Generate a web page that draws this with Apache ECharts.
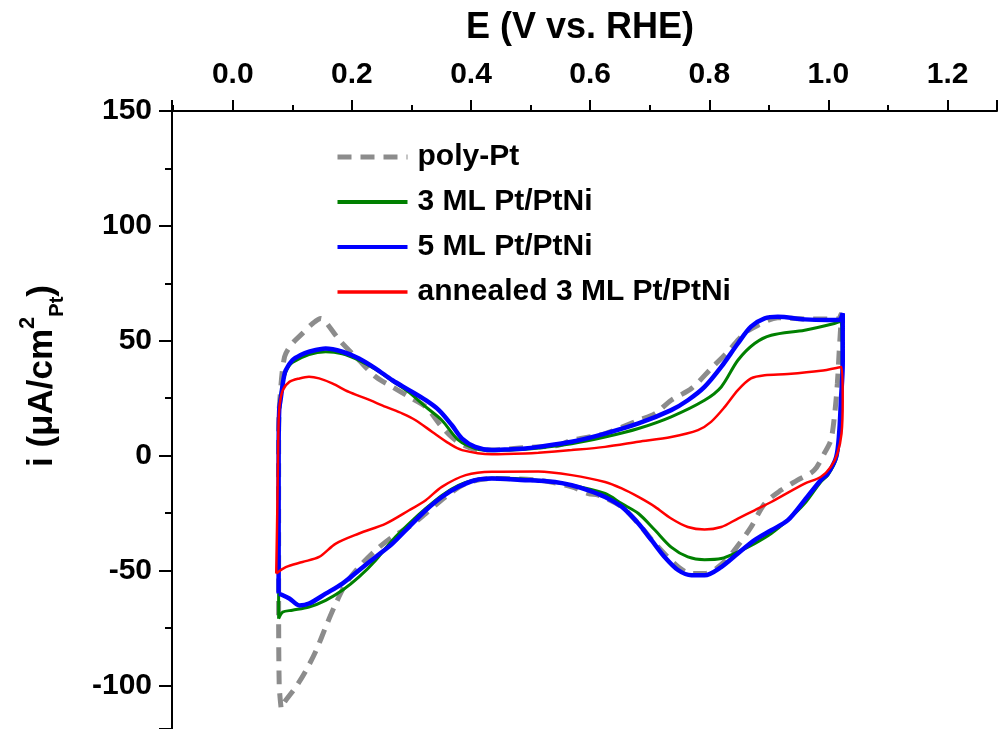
<!DOCTYPE html>
<html>
<head>
<meta charset="utf-8">
<script src="https://cdn.jsdelivr.net/npm/echarts@6/dist/echarts.min.js"></script>
<style>
  html, body { margin: 0; padding: 0; background: #ffffff; }
  #chart { width: 1000px; height: 729px; }
</style>
</head>
<body>
<div id="chart"></div>
<script>
// Cyclic voltammograms, each loop as [E (V vs. RHE), i (uA/cm2 Pt)] in sweep order:
// up the cathodic limit, anodic sweep to the right, back along the cathodic sweep.
const seriesNames = ['poly-Pt', '3 ML Pt/PtNi', '5 ML Pt/PtNi', 'annealed 3 ML Pt/PtNi'];

const polyPt = [
  [0.081, -109.5], [0.078, -100], [0.077, -60], [0.077, -20], [0.077, 10], [0.079, 24.1],
  [0.087, 43.0], [0.100, 48.8], [0.117, 53.2], [0.134, 57.5], [0.148, 59.7], [0.156, 58.2],
  [0.179, 50.3], [0.212, 41.5], [0.240, 34.3], [0.268, 29.9], [0.296, 25.6], [0.324, 21.2],
  [0.351, 12.5], [0.374, 6.7], [0.402, 3.1], [0.435, 2.4], [0.491, 3.5], [0.547, 4.5],
  [0.569, 6.7], [0.625, 9.6], [0.681, 15.4], [0.709, 18.3], [0.736, 24.1], [0.770, 29.2],
  [0.803, 37.9], [0.831, 45.2], [0.859, 53.2], [0.882, 56.8], [0.915, 60.0], [0.960, 59.5],
  [1.015, 59.5], [1.022, 62.0], [1.018, 45.0], [1.015, 31.4], [1.010, 16.9], [1.004, 6.7],
  [0.993, 0.9], [0.976, -6.4], [0.948, -10.7], [0.920, -15.1], [0.893, -20.9], [0.870, -31.1],
  [0.842, -41.2], [0.815, -48.5], [0.792, -51.3], [0.770, -51.3], [0.748, -48.5], [0.709, -38.3],
  [0.681, -29.6], [0.653, -22.3], [0.614, -17.2], [0.597, -16.5], [0.569, -13.6], [0.513, -10.7],
  [0.435, -10.0], [0.391, -12.2], [0.357, -18.0], [0.324, -25.2], [0.296, -31.0], [0.268, -35.4],
  [0.240, -41.2], [0.212, -48.5], [0.190, -55.7], [0.173, -64.4], [0.156, -74.6], [0.140, -84.8],
  [0.123, -93.5], [0.106, -100.7], [0.089, -106.5], [0.081, -109.5]
];

const ml3 = [
  [0.077, -71.0], [0.077, -40], [0.077, 0], [0.078, 20], [0.081, 27.0], [0.086, 34.0],
  [0.092, 38.0], [0.100, 40.5], [0.128, 44.0], [0.156, 45.2], [0.184, 44.3], [0.212, 41.5],
  [0.240, 37.5], [0.268, 32.5], [0.296, 27.5], [0.324, 21.2], [0.351, 15.4], [0.379, 6.7],
  [0.407, 3.1], [0.435, 2.2], [0.491, 2.8], [0.513, 3.3], [0.569, 5.2], [0.625, 8.1],
  [0.681, 11.8], [0.736, 16.9], [0.792, 24.1], [0.820, 29.9], [0.848, 41.5], [0.876, 48.8],
  [0.904, 52.4], [0.960, 54.6], [1.010, 57.5], [1.021, 58.5], [1.023, 40.0], [1.021, 20.0],
  [1.018, 8.0], [1.013, -1.5], [0.999, -8.5], [0.987, -11.5], [0.960, -20.9], [0.932, -28.0],
  [0.904, -33.9], [0.876, -38.3], [0.848, -41.9], [0.820, -44.8], [0.792, -45.3], [0.764, -44.1],
  [0.736, -39.8], [0.709, -32.5], [0.681, -25.2], [0.653, -20.9], [0.625, -16.5], [0.569, -12.9],
  [0.513, -10.7], [0.435, -9.8], [0.407, -10.5], [0.379, -13.0], [0.351, -17.3], [0.324, -23.0],
  [0.296, -29.6], [0.268, -36.8], [0.240, -45.5], [0.212, -52.8], [0.184, -58.6], [0.156, -63.0],
  [0.128, -65.9], [0.100, -67.3], [0.084, -68.1], [0.077, -71.0]
];

const ml5 = [
  [0.077, -60.0], [0.077, -30], [0.077, 0], [0.078, 20], [0.081, 25.6], [0.085, 33.0],
  [0.089, 37.2], [0.100, 41.5], [0.114, 43.8], [0.128, 45.2], [0.156, 46.6], [0.184, 45.2],
  [0.212, 42.3], [0.240, 37.9], [0.268, 32.8], [0.296, 28.5], [0.324, 24.1], [0.346, 19.8],
  [0.368, 13.2], [0.385, 7.4], [0.407, 3.8], [0.435, 2.4], [0.463, 2.7], [0.491, 3.1],
  [0.513, 3.8], [0.569, 6.0], [0.625, 9.6], [0.681, 14.0], [0.736, 19.8], [0.764, 24.1],
  [0.792, 29.9], [0.820, 38.6], [0.848, 48.8], [0.870, 56.1], [0.893, 59.7], [0.915, 60.4],
  [0.960, 59.3], [0.999, 59.0], [1.018, 59.0], [1.024, 62.0], [1.024, 40.0], [1.021, 24.1],
  [1.018, 9.6], [1.013, -0.6], [0.999, -7.8], [0.987, -10.7], [0.960, -19.4], [0.932, -28.1],
  [0.904, -32.5], [0.876, -36.8], [0.848, -42.6], [0.820, -48.5], [0.792, -52.1], [0.770, -52.1],
  [0.748, -49.9], [0.725, -44.1], [0.703, -36.8], [0.681, -29.6], [0.653, -22.3], [0.625, -18.0],
  [0.597, -15.1], [0.569, -12.9], [0.541, -11.5], [0.513, -10.9], [0.491, -10.7], [0.435, -10.0],
  [0.407, -10.7], [0.379, -13.6], [0.351, -18.0], [0.324, -23.8], [0.296, -31.0], [0.268, -38.3],
  [0.240, -44.1], [0.212, -49.9], [0.184, -55.7], [0.156, -60.1], [0.128, -64.4], [0.112, -65.2],
  [0.095, -62.2], [0.078, -60.1], [0.077, -60.0]
];

const annealed = [
  [0.073, -51.3], [0.075, -20], [0.076, 0], [0.077, 15], [0.079, 22.7], [0.084, 28.5],
  [0.095, 32.1], [0.112, 33.6], [0.128, 34.3], [0.145, 33.6], [0.167, 31.4], [0.195, 27.7],
  [0.223, 24.9], [0.257, 21.2], [0.285, 18.3], [0.307, 15.4], [0.335, 10.3], [0.363, 5.3],
  [0.385, 2.4], [0.435, 0.6], [0.491, 0.9], [0.513, 1.2], [0.569, 2.4], [0.625, 3.8],
  [0.681, 6.0], [0.736, 8.1], [0.781, 11.1], [0.803, 14.7], [0.826, 21.2], [0.848, 28.5],
  [0.870, 33.6], [0.893, 35.0], [0.932, 35.5], [0.987, 36.9], [1.022, 38.6], [1.024, 24.1],
  [1.022, 9.6], [1.015, 0.9], [1.004, -4.9], [0.987, -9.3], [0.960, -12.2], [0.904, -20.2],
  [0.876, -23.8], [0.848, -27.4], [0.820, -31.1], [0.792, -32.2], [0.764, -31.1], [0.736, -27.4],
  [0.709, -22.3], [0.681, -18.0], [0.653, -14.3], [0.625, -11.5], [0.569, -8.5], [0.513, -6.9],
  [0.435, -7.0], [0.391, -8.5], [0.351, -13.6], [0.324, -19.4], [0.296, -23.8], [0.257, -29.6],
  [0.212, -33.9], [0.173, -38.3], [0.145, -44.1], [0.117, -46.3], [0.089, -48.5], [0.073, -51.3]
];

const seriesData = [polyPt, ml3, ml5, annealed];
const seriesColors = ['#8c8c8c', '#008000', '#0000ff', '#ff0000'];
const seriesWidths = [5, 3, 4.5, 2.5];
const legendWidths = [5, 4, 4, 3.5];
const polyDash = [14, 9];

const FONT = "'Liberation Sans', Arial, Helvetica, sans-serif";
const black = '#000000';

const chart = echarts.init(document.getElementById('chart'), null, { renderer: 'canvas' });

const isMultiple = (v, step) => Math.abs(v / step - Math.round(v / step)) < 1e-6;

chart.setOption({
  animation: false,
  backgroundColor: '#ffffff',
  grid: { left: 172, right: 0, top: 111, bottom: 0, containLabel: false },
  xAxis: {
    type: 'value',
    position: 'top',
    min: -0.102,
    max: 1.283,
    splitNumber: 7,
    axisLine: { onZero: false, lineStyle: { color: black, width: 2 } },
    axisTick: { inside: false, length: 11, lineStyle: { color: black, width: 2 } },
    minorTick: { show: true, splitNumber: 2, length: 6, lineStyle: { color: black, width: 2 } },
    splitLine: { show: false },
    axisLabel: {
      margin: 21, color: black, fontSize: 30, fontWeight: 'bold', fontFamily: FONT,
      formatter: (v) => (isMultiple(v, 0.2) ? v.toFixed(1) : '')
    }
  },
  yAxis: {
    type: 'value',
    min: -119,
    max: 150,
    splitNumber: 6,
    axisLine: { onZero: false, lineStyle: { color: black, width: 2 } },
    axisTick: { inside: false, length: 13, lineStyle: { color: black, width: 2 } },
    minorTick: { show: true, splitNumber: 2, length: 7, lineStyle: { color: black, width: 2 } },
    splitLine: { show: false },
    axisLabel: {
      margin: 20, color: black, fontSize: 30, fontWeight: 'bold', fontFamily: FONT,
      formatter: (v) => (isMultiple(v, 50) ? String(Math.round(v)) : '')
    }
  },
  legend: {
    orient: 'vertical',
    left: 335,
    top: 142,
    padding: 0,
    itemWidth: 70,
    itemHeight: 14,
    itemGap: 15,
    selectedMode: false,
    itemStyle: { opacity: 0 },
    data: seriesNames.map((name, k) => ({
      name: name,
      lineStyle: {
        color: seriesColors[k],
        width: legendWidths[k],
        type: k === 0 ? polyDash : 'solid',
        opacity: 1
      }
    })),
    textStyle: {
      color: black, fontSize: 30, fontWeight: 'bold', fontFamily: FONT,
      lineHeight: 30, padding: [0, 0, 0, 5]
    }
  },
  graphic: [
    {
      type: 'text',
      x: 580, y: 28,
      style: {
        text: 'E (V vs. RHE)',
        fill: black,
        font: 'bold 36px ' + FONT,
        align: 'center',
        verticalAlign: 'middle'
      }
    },
    {
      type: 'text',
      x: 42, y: 376,
      rotation: Math.PI / 2,
      style: {
        text: '{m|i (\u03bcA/cm}{sup|2}{sub|Pt}{m|)}',
        align: 'center',
        verticalAlign: 'middle',
        rich: {
          m: { fontSize: 35, fontWeight: 'bold', fontFamily: FONT, fill: black, lineHeight: 50, verticalAlign: 'middle' },
          sup: { fontSize: 22, fontWeight: 'bold', fontFamily: FONT, fill: black, lineHeight: 50, verticalAlign: 'top' },
          sub: { fontSize: 20, fontWeight: 'bold', fontFamily: FONT, fill: black, lineHeight: 50, verticalAlign: 'bottom' }
        }
      }
    }
  ],
  series: seriesData.map((data, k) => ({
    name: seriesNames[k],
    type: 'line',
    data: data,
    symbol: 'none',
    showSymbol: false,
    smooth: 0.3,
    clip: true,
    z: 2 + k,
    color: seriesColors[k],
    lineStyle: {
      color: seriesColors[k],
      width: seriesWidths[k],
      type: k === 0 ? polyDash : 'solid'
    }
  }))
});
</script>
</body>
</html>
